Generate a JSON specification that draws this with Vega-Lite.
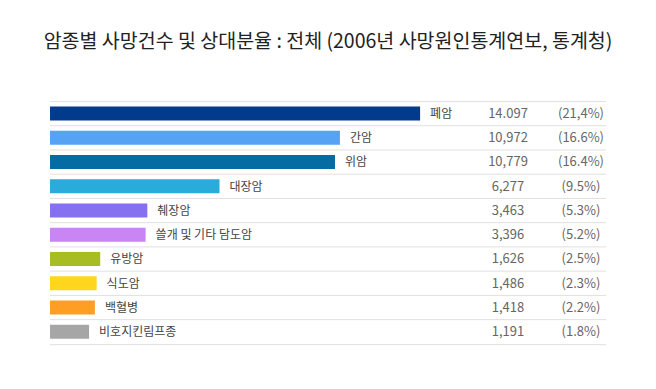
{
  "$schema": "https://vega.github.io/schema/vega-lite/v6.json",
  "width": 656,
  "height": 329,
  "autosize": {"type": "none"},
  "padding": {"top": 60, "left": 0, "right": 0, "bottom": 0},
  "background": "white",
  "config": {"view": {"stroke": null}, "font": "Noto Sans CJK KR"},
  "title": {
    "text": "암종별 사망건수 및 상대분율 : 전체 (2006년 사망원인통계연보, 통계청)",
    "anchor": "middle",
    "frame": "group",
    "fontSize": 19.5,
    "fontWeight": "normal",
    "font": "Noto Sans CJK KR",
    "color": "#222222",
    "offset": 8
  },
  "data": {
    "values": [
      {"row": 1, "name": "폐암", "deaths": 14097, "count": "14.097", "pct": "(21,4%)"},
      {"row": 2, "name": "간암", "deaths": 10972, "count": "10,972", "pct": "(16.6%)"},
      {"row": 3, "name": "위암", "deaths": 10779, "count": "10,779", "pct": "(16.4%)"},
      {"row": 4, "name": "대장암", "deaths": 6277, "count": "6,277", "pct": "(9.5%)"},
      {"row": 5, "name": "췌장암", "deaths": 3463, "count": "3,463", "pct": "(5.3%)"},
      {"row": 6, "name": "쓸개 및 기타 담도암", "deaths": 3396, "count": "3,396", "pct": "(5.2%)"},
      {"row": 7, "name": "유방암", "deaths": 1626, "count": "1,626", "pct": "(2.5%)"},
      {"row": 8, "name": "식도암", "deaths": 1486, "count": "1,486", "pct": "(2.3%)"},
      {"row": 9, "name": "백혈병", "deaths": 1418, "count": "1,418", "pct": "(2.2%)"},
      {"row": 10, "name": "비호지킨림프종", "deaths": 1191, "count": "1,191", "pct": "(1.8%)"}
    ]
  },
  "encoding": {
    "y": {
      "field": "row",
      "type": "quantitative",
      "scale": {"domain": [-1.02, 12.14], "reverse": true, "nice": false, "zero": false},
      "axis": null
    }
  },
  "layer": [
    {
      "mark": {"type": "rule", "color": "#e0e0e0", "strokeWidth": 1, "yOffset": -12.5},
      "encoding": {
        "x": {"datum": -331, "type": "quantitative", "scale": {"domain": [-2281, 23294], "nice": false, "zero": false}, "axis": null},
        "x2": {"datum": 21345}
      }
    },
    {
      "transform": [{"filter": "datum.row == 10"}],
      "mark": {"type": "rule", "color": "#e0e0e0", "strokeWidth": 1, "yOffset": 12.5},
      "encoding": {
        "x": {"datum": -331, "type": "quantitative"},
        "x2": {"datum": 21345}
      }
    },
    {
      "mark": {"type": "bar", "height": 14, "yOffset": -0.5},
      "encoding": {
        "x": {"field": "deaths", "type": "quantitative"},
        "x2": {"datum": -331},
        "color": {
          "field": "name",
          "type": "nominal",
          "scale": {
            "domain": ["폐암", "간암", "위암", "대장암", "췌장암", "쓸개 및 기타 담도암", "유방암", "식도암", "백혈병", "비호지킨림프종"],
            "range": ["#023a8c", "#56a2f5", "#046ca3", "#29acda", "#8571f0", "#c885f3", "#a8bd22", "#fed61e", "#fe9e22", "#a6a6a6"]
          },
          "legend": null
        }
      }
    },
    {
      "mark": {"type": "text", "align": "left", "baseline": "middle", "dx": 10, "fontSize": 12, "color": "#444444"},
      "encoding": {
        "x": {"field": "deaths", "type": "quantitative"},
        "text": {"field": "name"}
      }
    },
    {
      "mark": {"type": "text", "align": "center", "baseline": "middle", "fontSize": 13, "color": "#666666"},
      "encoding": {
        "x": {"datum": 17524, "type": "quantitative"},
        "text": {"field": "count"}
      }
    },
    {
      "mark": {"type": "text", "align": "center", "baseline": "middle", "fontSize": 13, "color": "#666666"},
      "encoding": {
        "x": {"datum": 20370, "type": "quantitative"},
        "text": {"field": "pct"}
      }
    },
    {
      "data": {"values": [{"header": "사망자(명)", "pos": 17524}, {"header": "상대분율*", "pos": 20370}]},
      "mark": {"type": "text", "align": "center", "baseline": "middle", "fontSize": 12, "color": "#666666"},
      "encoding": {
        "x": {"field": "pos", "type": "quantitative"},
        "y": {"datum": -0.14},
        "text": {"field": "header"}
      }
    }
  ]
}
